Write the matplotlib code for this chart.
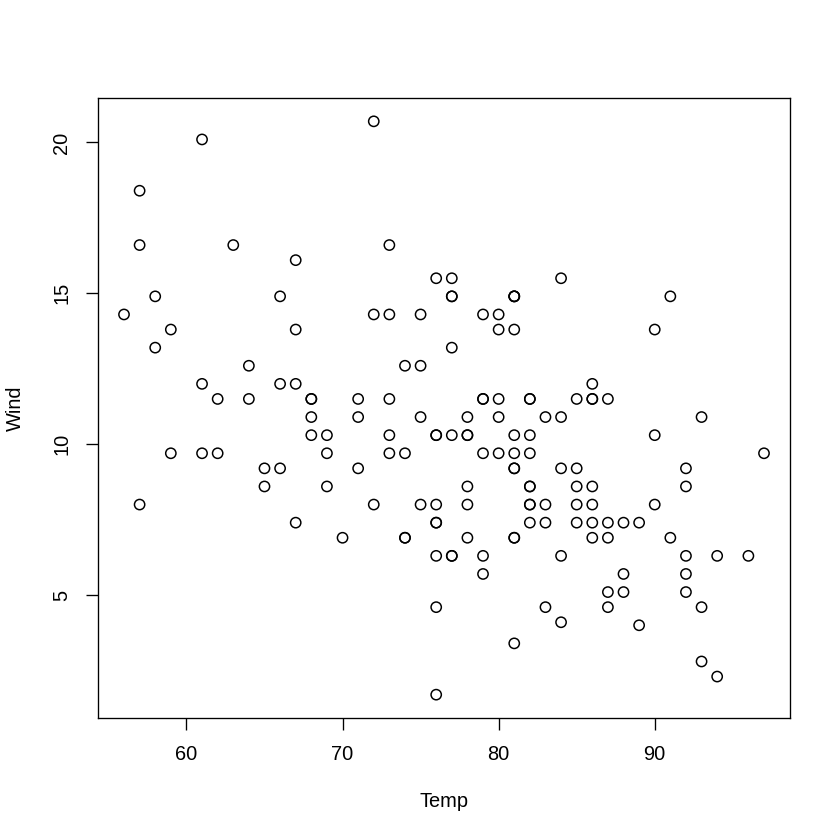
import matplotlib
matplotlib.use("Agg")
import matplotlib.pyplot as plt

plt.rcParams['font.family'] = ['Liberation Sans', 'DejaVu Sans']

# airquality: Temp vs Wind
temp = [67, 72, 74, 62, 56, 66, 65, 59, 61, 69, 74, 69, 66, 68, 58, 64, 66, 57, 68, 62,
        59, 73, 61, 61, 57, 58, 57, 67, 81, 79, 76, 78, 74, 67, 84, 85, 79, 82, 87, 90,
        87, 93, 92, 82, 80, 79, 77, 72, 65, 73, 76, 77, 76, 76, 76, 75, 78, 73, 80, 77,
        83, 84, 85, 81, 84, 83, 83, 88, 92, 92, 89, 82, 73, 81, 91, 80, 81, 82, 84, 87,
        85, 74, 81, 82, 86, 85, 82, 86, 88, 86, 83, 81, 81, 81, 82, 86, 85, 87, 89, 90,
        90, 92, 86, 86, 82, 80, 79, 77, 79, 76, 78, 78, 77, 72, 75, 79, 81, 86, 88, 97,
        94, 96, 94, 91, 92, 93, 93, 87, 84, 80, 78, 75, 73, 81, 76, 77, 71, 71, 78, 67,
        76, 68, 82, 64, 71, 81, 69, 63, 70, 77, 75, 76, 68]
wind = [7.4, 8.0, 12.6, 11.5, 14.3, 14.9, 8.6, 13.8, 20.1, 8.6, 6.9, 9.7, 9.2, 10.9, 13.2,
        11.5, 12.0, 18.4, 11.5, 9.7, 9.7, 16.6, 9.7, 12.0, 16.6, 14.9, 8.0, 12.0, 14.9, 5.7,
        7.4, 8.6, 9.7, 16.1, 9.2, 8.6, 14.3, 9.7, 6.9, 13.8, 11.5, 10.9, 9.2, 8.0, 13.8,
        11.5, 14.9, 20.7, 9.2, 11.5, 10.3, 6.3, 1.7, 4.6, 6.3, 8.0, 8.0, 10.3, 11.5, 14.9,
        8.0, 4.1, 9.2, 9.2, 10.9, 4.6, 10.9, 5.1, 6.3, 5.7, 7.4, 8.6, 14.3, 14.9, 14.9,
        14.3, 6.9, 10.3, 6.3, 5.1, 11.5, 6.9, 9.7, 11.5, 8.6, 8.0, 8.6, 12.0, 7.4, 7.4,
        7.4, 9.2, 6.9, 13.8, 7.4, 6.9, 7.4, 4.6, 4.0, 10.3, 8.0, 8.6, 11.5, 11.5, 11.5,
        9.7, 11.5, 10.3, 6.3, 7.4, 10.9, 10.3, 15.5, 14.3, 12.6, 9.7, 3.4, 8.0, 5.7, 9.7,
        2.3, 6.3, 6.3, 6.9, 5.1, 2.8, 4.6, 7.4, 15.5, 10.9, 10.3, 10.9, 9.7, 14.9, 15.5,
        6.3, 10.9, 11.5, 6.9, 13.8, 10.3, 10.3, 8.0, 12.6, 9.2, 10.3, 10.3, 16.6, 6.9,
        13.2, 14.3, 8.0, 11.5]
xticks = [60, 70, 80, 90]
yticks = [5, 10, 15, 20]

fig = plt.figure(figsize=(7, 7), dpi=120)
ax = fig.add_axes([98.4 / 840, 122.4 / 840, 691.2 / 840, 619.2 / 840])

ax.scatter(temp, wind, s=38, facecolors='none', edgecolors='black', linewidths=0.9)

xr = max(temp) - min(temp)
yr = max(wind) - min(wind)
ax.set_xlim(min(temp) - 0.04 * xr, max(temp) + 0.04 * xr)
ax.set_ylim(min(wind) - 0.04 * yr, max(wind) + 0.04 * yr)

ax.set_xticks(xticks)
ax.set_yticks(yticks)
ax.tick_params(length=7.2, width=0.8, labelsize=12, pad=9, color='black')
for lab in ax.get_yticklabels():
    lab.set_rotation(90)
    lab.set_va('center')
for sp in ax.spines.values():
    sp.set_linewidth(0.8)

ax.set_xlabel("Temp", fontsize=12, va='center')
ax.set_ylabel("Wind", fontsize=12, va='center')
ax.xaxis.set_label_coords(0.5, -0.1347)
ax.yaxis.set_label_coords(-0.1207, 0.5)

fig.savefig("out.png", dpi=120, facecolor='white')
